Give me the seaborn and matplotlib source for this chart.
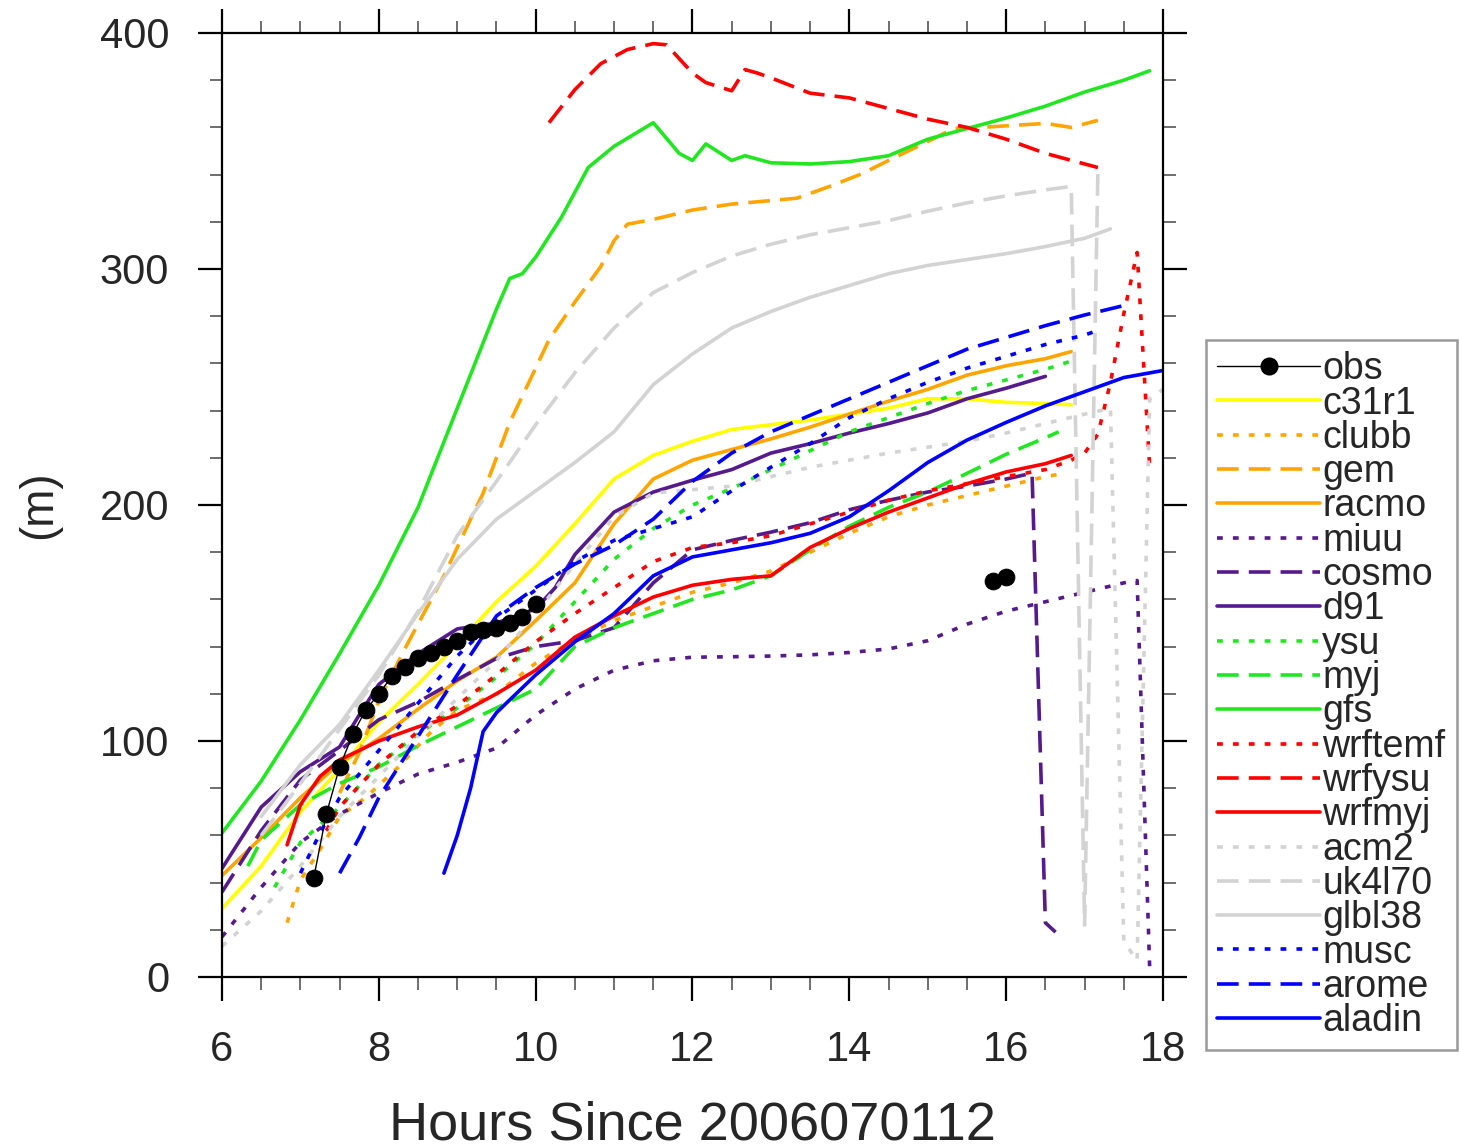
import numpy as np
import pandas as pd
import matplotlib
matplotlib.use("Agg")
import matplotlib.pyplot as plt
from matplotlib.ticker import MultipleLocator
from matplotlib.lines import Line2D
import seaborn as sns

# ---- observations (boundary-layer height, m) ----
obs_hours = [7.17, 7.33, 7.5, 7.67, 7.83, 8.0, 8.17, 8.33, 8.5, 8.67, 8.83, 9.0,
             9.17, 9.33, 9.5, 9.67, 9.83, 10.0, 15.83, 16.0]
obs_height = [42, 69, 89, 103, 113, 120, 127.5, 131.5, 135, 137.5, 140, 142.5,
              146, 147, 148, 150, 152.5, 158, 168, 169.5]
obs_segment = [0] * 18 + [1, 1]

# ---- model runs ----
c31r1_x = [6.0, 6.5, 7.0, 7.5, 8.0, 8.5, 9.0, 9.5, 10.0, 10.5, 11.0, 11.5, 12.0, 12.5,
           13.0, 13.5, 14.0, 14.5, 15.0, 15.5, 16.0, 16.5, 16.83]
c31r1_y = [29, 47, 70, 88, 108, 124, 141, 159, 174, 192, 211, 221, 227, 232,
           234, 236, 238.5, 241, 245, 245, 243.5, 243, 242.5]

clubb_x = [6.83, 7.0, 7.25, 7.5, 7.83, 8.25, 8.67, 9.0, 9.5, 10.0, 10.5, 11.0, 11.5, 12.0,
           12.5, 13.0, 13.5, 14.0, 14.5, 15.0, 15.5, 16.0, 16.5, 16.67]
clubb_y = [23, 41, 54, 68, 76, 89, 104, 113, 120, 133, 143, 151, 157, 163,
           167, 172, 180, 188, 195, 200, 204, 208, 212, 213]

gem_x = [7.5, 7.75, 8.0, 8.33, 8.83, 9.17, 9.33, 9.67, 10.0, 10.17, 10.5, 10.83, 11.0, 11.17,
         11.5, 12.0, 12.5, 13.0, 13.33, 13.75, 14.17, 14.5, 15.0, 15.33, 15.83, 16.5, 16.83, 17.17]
gem_y = [78, 95, 117, 139, 170, 194, 205, 235, 258, 270, 286, 301, 312, 319,
         321, 325, 327.5, 329, 330, 335, 340.5, 346, 354, 359.5, 360.3, 361.7, 360, 363]

racmo_x = [6.0, 6.5, 7.0, 7.5, 8.0, 8.5, 9.0, 9.5, 10.0, 10.5, 11.0, 11.5, 12.0, 12.5,
           13.0, 13.5, 14.0, 14.5, 15.0, 15.5, 16.0, 16.5, 16.83]
racmo_y = [43, 59, 76, 90.5, 101, 113.5, 125.5, 135.5, 151, 167, 192, 211, 219, 223.5,
           228, 233, 238.5, 244, 249, 255, 259, 262, 265]

miuu_x = [6.0, 6.5, 7.0, 7.5, 8.0, 8.5, 9.0, 9.5, 10.0, 10.5, 11.0, 11.5, 12.0, 12.5,
          13.0, 13.5, 14.0, 14.5, 15.0, 15.5, 16.0, 16.5, 17.0, 17.5, 17.67, 17.83]
miuu_y = [17, 38, 57, 69, 78, 86, 91, 97, 111, 122, 130, 134, 135.5, 135.7,
          136, 136.5, 137.5, 139, 142.5, 149.5, 155, 159, 163, 167, 168, 4]

cosmo_x = [6.0, 6.5, 7.0, 7.5, 8.0, 8.5, 9.0, 9.5, 10.0, 10.5, 11.0, 11.5, 12.0, 12.5,
           13.0, 13.5, 14.0, 14.5, 15.0, 15.5, 16.0, 16.33, 16.5, 16.63]
cosmo_y = [36, 62, 83.5, 96, 109, 116.5, 126, 135, 140, 142.5, 148, 167, 181, 185,
           188.5, 192.5, 198, 202, 205.5, 208, 211, 213.5, 23, 19]

d91_x = [6.0, 6.25, 6.5, 7.0, 7.5, 7.75, 8.0, 8.5, 9.0, 9.5, 10.0, 10.25, 10.5, 11.0,
         11.5, 12.0, 12.5, 13.0, 13.5, 14.0, 14.5, 15.0, 15.5, 16.0, 16.5]
d91_y = [46, 59, 72, 87, 97.5, 111, 124, 137, 147.5, 150, 156, 165, 179, 197,
         205.5, 210.5, 215, 222, 226, 230.5, 234.5, 239, 245, 249.5, 254.5]

ysu_x = [6.67, 7.0, 7.5, 8.0, 8.5, 9.0, 9.5, 10.0, 10.5, 11.0, 11.5, 12.0, 12.5, 13.0,
         13.5, 14.0, 14.5, 15.0, 15.5, 16.0, 16.5, 16.83]
ysu_y = [38, 57, 72, 90, 103, 114, 127, 141, 159, 177, 190, 200, 207, 215,
         223, 231, 237, 243, 248.5, 253, 257.5, 261]

myj_x = [6.33, 6.5, 7.0, 7.5, 8.0, 8.5, 9.0, 9.5, 10.0, 10.5, 11.0, 11.5, 12.0, 12.5,
         13.0, 13.5, 14.0, 14.5, 15.0, 15.5, 16.0, 16.5, 16.67]
myj_y = [47, 58, 73, 82, 89, 98, 106, 114, 122, 140, 148, 154, 160, 164,
         170, 181, 191, 199, 205.5, 213.4, 221.5, 228.5, 231]

gfs_x = [6.0, 6.5, 7.0, 7.5, 8.0, 8.5, 9.0, 9.5, 9.67, 9.83, 10.0, 10.33, 10.67, 11.0,
         11.5, 11.83, 12.0, 12.17, 12.5, 12.67, 13.0, 13.5, 14.0, 14.5, 15.0, 15.5, 16.0,
         16.5, 17.0, 17.5, 17.83]
gfs_y = [61, 83, 109, 137, 166, 199, 241, 283, 296, 298, 305, 322, 343, 352,
         362, 349, 346, 353, 346, 348, 345, 344.5, 345.5, 348, 355, 359.5, 364,
         369, 375, 380, 384]

wrftemf_x = [7.33, 7.5, 8.0, 8.5, 9.0, 9.5, 10.0, 10.5, 11.0, 11.5, 12.0, 12.5, 13.0, 13.5,
             14.0, 14.5, 15.0, 15.5, 16.0, 16.5, 16.83, 17.0, 17.17, 17.33, 17.5, 17.67, 17.83]
wrftemf_y = [62, 72, 90, 104, 115, 128, 142, 154, 165, 176, 182, 184, 187, 192,
             197, 202, 206, 209, 212, 215, 219, 222, 230, 252, 281, 307, 216]

wrfysu_x = [10.17, 10.5, 10.83, 11.17, 11.5, 11.67, 12.0, 12.17, 12.5, 12.67, 12.83, 13.0,
            13.5, 14.0, 14.5, 15.0, 15.5, 16.0, 16.5, 17.17]
wrfysu_y = [362, 376, 387, 393, 395.5, 395, 383, 379, 375.5, 384.5, 383, 381,
            374.5, 372.5, 368, 363.5, 360, 355, 349, 343]

wrfmyj_x = [6.83, 7.0, 7.25, 7.5, 8.0, 8.5, 9.0, 9.5, 10.0, 10.5, 11.0, 11.5, 12.0, 12.5,
            13.0, 13.5, 14.0, 14.5, 15.0, 15.5, 16.0, 16.5, 16.83]
wrfmyj_y = [56, 73, 85, 92, 100, 106, 111, 120, 130, 144, 153, 161, 166, 168.5,
            170, 182, 190, 197, 203, 209, 214, 217.5, 221]

acm2_x = [6.0, 6.5, 7.0, 7.5, 8.0, 8.5, 9.0, 9.5, 10.0, 10.5, 11.0, 11.5, 12.0, 12.5,
          13.0, 13.5, 14.0, 14.5, 15.0, 15.5, 16.0, 16.5, 17.0, 17.33, 17.5, 17.67, 17.83, 18.0]
acm2_y = [13, 28, 47, 68, 85, 102, 118, 134, 154, 175, 195, 205, 206.5, 208,
          212, 216, 219, 222, 224.5, 227, 230.5, 234.5, 238.5, 241, 15, 7, 245, 249]

uk4l70_x = [6.5, 7.0, 7.5, 8.0, 8.5, 9.0, 9.5, 10.0, 10.5, 11.0, 11.5, 12.0, 12.5, 13.0,
            13.5, 14.0, 14.5, 15.0, 15.5, 16.0, 16.5, 16.83, 17.0, 17.17]
uk4l70_y = [60, 82, 105, 128, 155, 187, 210, 234, 256, 275, 290, 298.5, 305.5, 310.5,
            314.5, 317.5, 320.5, 324.5, 328, 331, 333.5, 335, 22, 342]

glbl38_x = [6.5, 7.0, 7.5, 8.0, 8.5, 9.0, 9.5, 10.0, 10.5, 11.0, 11.5, 12.0, 12.5, 13.0,
            13.5, 14.0, 14.5, 15.0, 15.5, 16.0, 16.5, 17.0, 17.33]
glbl38_y = [68, 90, 107, 130, 154, 177, 194, 206, 218, 231, 251, 264, 275, 282,
            288, 293, 298, 301.5, 304, 306.5, 309.5, 313, 317]

musc_x = [7.0, 7.25, 7.5, 8.0, 8.5, 9.0, 9.5, 10.0, 10.5, 11.0, 11.5, 12.0, 12.5, 13.0,
          13.5, 14.0, 14.5, 15.0, 15.5, 16.0, 16.5, 17.0, 17.17]
musc_y = [44, 61, 76, 96, 116, 136, 152, 164, 176, 185, 190, 195, 206, 216,
          226, 237, 245, 252, 258, 263, 268, 272, 274]

arome_x = [7.5, 7.75, 8.0, 8.5, 9.0, 9.5, 10.0, 10.5, 11.0, 11.5, 12.0, 12.5, 13.0, 13.5,
           14.0, 14.5, 15.0, 15.5, 16.0, 16.5, 17.0, 17.5]
arome_y = [44, 59, 76, 102, 128, 153, 165, 175, 183, 194, 210, 222, 231, 238,
           245, 252, 259, 266, 271, 276, 280.5, 284.5]

aladin_x = [8.83, 9.0, 9.17, 9.33, 9.5, 10.0, 10.5, 11.0, 11.5, 12.0, 12.5, 13.0, 13.5,
            14.0, 14.5, 15.0, 15.5, 16.0, 16.5, 17.0, 17.5, 18.0]
aladin_y = [44, 60, 80, 104, 112, 128, 142, 154, 170, 178, 181, 184, 188,
            195, 206, 218, 227.5, 235, 242, 248, 254, 257]

# ---- styling ----
YELLOW = "#FFFF00"
ORANGE = "#FFA500"
PURPLE = "#551A8B"
GREEN = "#22E622"
RED = "#FF0000"
GREY = "#D3D3D3"
BLUE = "#0000FF"

DOT = (0, (1.6, 2.8))
DASH = (0, (6.0, 2.8))
SOLID = "-"

models = [
    ("c31r1", c31r1_x, c31r1_y, YELLOW, SOLID),
    ("clubb", clubb_x, clubb_y, ORANGE, DOT),
    ("gem", gem_x, gem_y, ORANGE, DASH),
    ("racmo", racmo_x, racmo_y, ORANGE, SOLID),
    ("miuu", miuu_x, miuu_y, PURPLE, DOT),
    ("cosmo", cosmo_x, cosmo_y, PURPLE, DASH),
    ("d91", d91_x, d91_y, PURPLE, SOLID),
    ("ysu", ysu_x, ysu_y, GREEN, DOT),
    ("myj", myj_x, myj_y, GREEN, DASH),
    ("gfs", gfs_x, gfs_y, GREEN, SOLID),
    ("wrftemf", wrftemf_x, wrftemf_y, RED, DOT),
    ("wrfysu", wrfysu_x, wrfysu_y, RED, DASH),
    ("wrfmyj", wrfmyj_x, wrfmyj_y, RED, SOLID),
    ("acm2", acm2_x, acm2_y, GREY, DOT),
    ("uk4l70", uk4l70_x, uk4l70_y, GREY, DASH),
    ("glbl38", glbl38_x, glbl38_y, GREY, SOLID),
    ("musc", musc_x, musc_y, BLUE, DOT),
    ("arome", arome_x, arome_y, BLUE, DASH),
    ("aladin", aladin_x, aladin_y, BLUE, SOLID),
]

sns.set_style("ticks")
plt.rcParams["font.family"] = ["Liberation Sans", "DejaVu Sans"]

fig = plt.figure(figsize=(14.6, 11.48), dpi=100)
ax = fig.add_axes([222 / 1460, 1 - 977 / 1148, (1163 - 222) / 1460, (977 - 33) / 1148])

LW = 2.6
handles = []

obs_df = pd.DataFrame({"hour": obs_hours, "height": obs_height, "seg": obs_segment})
sns.lineplot(data=obs_df, x="hour", y="height", units="seg", estimator=None,
             color="black", lw=1.0, marker="o", markersize=12,
             markeredgecolor="black", ax=ax, legend=False, zorder=5)
handles.append(Line2D([], [], color="black", lw=1.0, marker="o", markersize=12,
                      label="obs"))

for name, xs, ys, col, ls in models:
    df = pd.DataFrame({"hour": xs, "height": ys})
    sns.lineplot(data=df, x="hour", y="height", color=col, linestyle=ls, lw=LW,
                 sort=False, estimator=None, ax=ax, legend=False)
    handles.append(Line2D([], [], color=col, linestyle=ls, lw=LW, label=name))

ax.set_xlim(6, 18)
ax.set_ylim(0, 400)
ax.xaxis.set_major_locator(MultipleLocator(2))
ax.xaxis.set_minor_locator(MultipleLocator(0.5))
ax.yaxis.set_major_locator(MultipleLocator(100))
ax.yaxis.set_minor_locator(MultipleLocator(20))

for side in ["left", "right", "top", "bottom"]:
    ax.spines[side].set_visible(True)
    ax.spines[side].set_linewidth(1.6)
    ax.spines[side].set_color("black")

ax.tick_params(which="both", direction="out", top=True, right=True,
               labeltop=False, labelright=False, color="black")
ax.tick_params(which="major", length=17, width=1.6, labelsize=30, pad=21)
ax.tick_params(which="minor", length=9, width=1.2, color="#555555")

ax.set_xlabel("Hours Since 2006070112", fontsize=39, labelpad=22)
ax.set_ylabel("(m)", fontsize=33, labelpad=28)

leg = ax.legend(handles=handles, loc="upper left",
                bbox_to_anchor=(1206 / 1460, 1 - 340 / 1148),
                bbox_transform=fig.transFigure, fontsize=27,
                handlelength=2.75, handletextpad=0.05, labelspacing=-0.045,
                borderpad=0.3, borderaxespad=0, frameon=True, fancybox=False,
                edgecolor="#999999", framealpha=1)
leg.get_frame().set_linewidth(1.8)

fig.savefig("out.png", dpi=100)
